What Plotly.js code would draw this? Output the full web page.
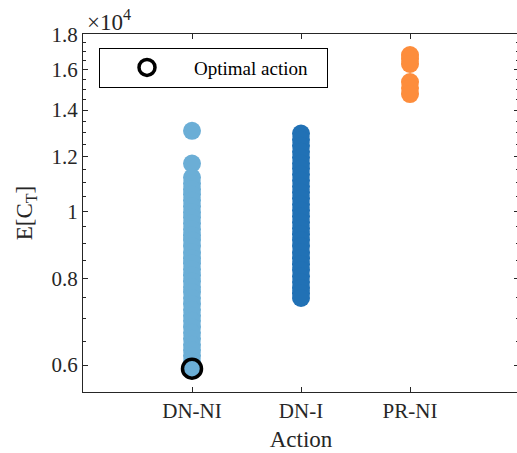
<!DOCTYPE html>
<html>
<head>
<meta charset="utf-8">
<script src="https://cdn.plot.ly/plotly-3.0.1.min.js"></script>
<style>
html,body{margin:0;padding:0;overflow:hidden;background:#fff;}
#chart{width:521px;height:453px;}
</style>
</head>
<body>
<div id="chart"></div>
<script>
// Categories
var actions = ['DN-NI', 'DN-I', 'PR-NI'];

// Expected total cost E[C_T] for each evaluated policy, grouped by action
var costDNNI = [13070, 11720, 11190, 10970, 10760, 10580, 10370, 10170, 9970, 9800,
  9610, 9420, 9240, 9090, 8910, 8730, 8560, 8420, 8250, 8090,
  7930, 7780, 7650, 7500, 7350, 7210, 7070, 6950, 6810, 6680,
  6550, 6420, 6310, 6190, 6070, 5930];
var costDNI = [12950, 12690, 12440, 12190, 11960, 11720, 11530, 11300, 11080, 10860,
  10650, 10440, 10230, 10030, 9840, 9640, 9450, 9270, 9090, 8910,
  8730, 8560, 8390, 8230, 8060, 7910, 7750, 7620, 7500];
var costPRNI = [16810, 16590, 16320, 15370, 15070, 14770];

// Optimal action
var optimalAction = ['DN-NI'];
var optimalCost = [5930];

// Y tick labels (scaled by 10^4)
var yTickVals = [6000, 8000, 10000, 12000, 14000, 16000, 18000];
var yTickText = ['0.6', '0.8', '1', '1.2', '1.4', '1.6', '1.8'];
var yMinorVals = [5500, 6500, 7000, 7500, 8500, 9000, 9500, 10500, 11000, 11500,
  12500, 13000, 13500, 14500, 15000, 15500, 16500, 17000, 17500];

function rep(v, n) { var a = []; for (var i = 0; i < n; i++) a.push(v); return a; }

var FONT = 'Liberation Serif, Times New Roman, serif';
var AX = '#262626';

var traces = [
  { type: 'scatter', mode: 'markers', x: rep(actions[0], costDNNI.length), y: costDNNI,
    marker: { size: 18, color: '#6baed6', line: { width: 0 } }, showlegend: false, hoverinfo: 'y' },
  { type: 'scatter', mode: 'markers', x: rep(actions[1], costDNI.length), y: costDNI,
    marker: { size: 18, color: '#2171b5', line: { width: 0 } }, showlegend: false, hoverinfo: 'y' },
  { type: 'scatter', mode: 'markers', x: rep(actions[2], costPRNI.length), y: costPRNI,
    marker: { size: 18, color: '#fd8d3c', line: { width: 0 } }, showlegend: false, hoverinfo: 'y' },
  { type: 'scatter', mode: 'markers', x: optimalAction, y: optimalCost,
    name: 'Optimal action\u00a0\u00a0\u00a0',
    marker: { size: 19, color: 'rgba(0,0,0,0)', line: { width: 3.5, color: '#000' } }, showlegend: true }
];

var layout = {
  width: 521, height: 453,
  margin: { l: 83, r: 2, t: 34, b: 61 },
  paper_bgcolor: '#fff', plot_bgcolor: '#fff',
  font: { family: FONT, color: AX, size: 21 },
  showlegend: true,
  legend: {
    x: 0.0367, y: 0.962, xanchor: 'left', yanchor: 'top',
    bordercolor: '#000', borderwidth: 1, bgcolor: '#fff',
    font: { family: FONT, size: 19, color: '#000' },
    itemwidth: 84
  },
  xaxis: {
    type: 'category', categoryorder: 'array', categoryarray: actions,
    range: [-1, 3], showgrid: false, zeroline: false,
    showline: true, linecolor: AX, linewidth: 1, mirror: 'ticks',
    ticks: 'inside', ticklen: 5, tickcolor: AX,
    tickfont: { family: FONT, size: 21, color: AX },
    title: { text: 'Action', font: { family: FONT, size: 23, color: AX }, standoff: 8 }
  },
  yaxis: {
    type: 'log', range: [Math.log10(5487), Math.log10(18030)],
    showgrid: false, zeroline: false,
    showline: true, linecolor: AX, linewidth: 1, mirror: 'ticks',
    ticks: 'inside', ticklen: 5, tickcolor: AX,
    tickmode: 'array', tickvals: yTickVals, ticktext: yTickText,
    tickfont: { family: FONT, size: 21, color: AX },
    minor: { tickmode: 'array', tickvals: yMinorVals, ticks: 'inside', ticklen: 3, tickcolor: AX, showgrid: false },
    title: { text: 'E[C<sub>T</sub>]', font: { family: FONT, size: 23, color: AX }, standoff: 12 }
  },
  annotations: [
    { xref: 'paper', yref: 'paper', x: 0, y: 1, xanchor: 'left', yanchor: 'bottom',
      xshift: 2, yshift: -3, showarrow: false,
      text: '\u00d710<sup>4</sup>', font: { family: FONT, size: 23, color: AX } }
  ]
};

Plotly.newPlot('chart', traces, layout, { displayModeBar: false, staticPlot: true });
</script>
</body>
</html>
